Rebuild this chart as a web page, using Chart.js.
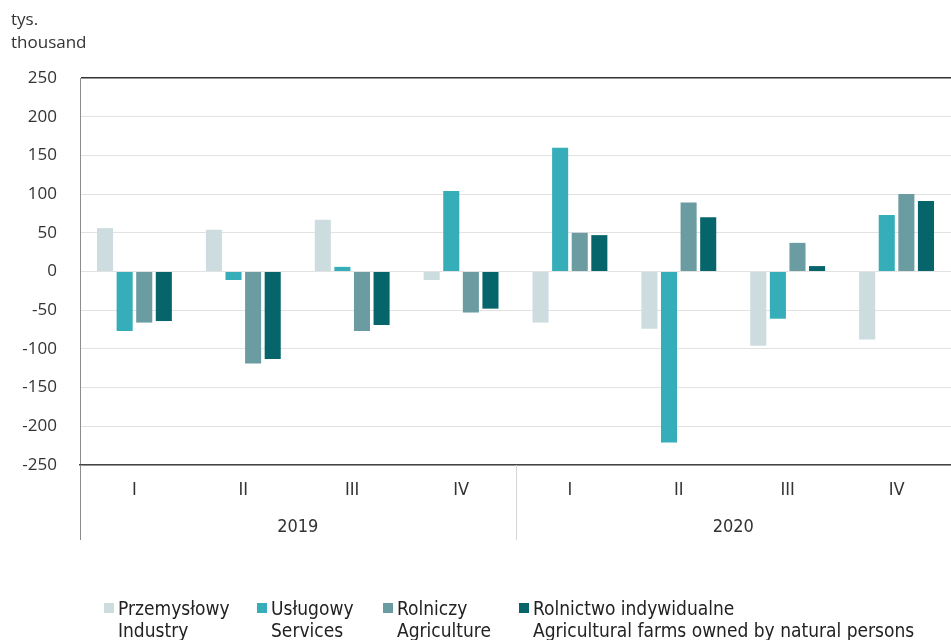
<!DOCTYPE html>
<html>
<head>
<meta charset="utf-8">
<script src="https://cdn.jsdelivr.net/npm/chart.js@4"></script>
<style>
  body { margin: 0; background: #fff; }
  #wrap { position: relative; width: 951px; height: 640px; }
  #legend { position: absolute; left: 0; top: 597px; width: 951px; height: 43px;
    font-family: "DejaVu Sans Condensed", "DejaVu Sans", sans-serif;
    font-size: 19px; color: #222; line-height: 22px; }
  .box { position: absolute; top: 6px; width: 10px; height: 10px; }
  .txt { position: absolute; top: 0; white-space: nowrap; }
</style>
</head>
<body>
<div id="wrap">
  <canvas id="chart" width="951" height="640"></canvas>
  <div id="legend"></div>
</div>
<script>
const quarters = ['I', 'II', 'III', 'IV', 'I', 'II', 'III', 'IV'];
const years = ['2019', '2020'];
const unitLabels = ['tys.', 'thousand'];

const industry    = [56, 54, 67, -11, -66, -74, -96, -88];
const services    = [-77, -11, 6, 104, 160, -221, -61, 73];
const agriculture = [-66, -119, -77, -53, 50, 89, 37, 100];
const individual  = [-64, -113, -69, -48, 47, 70, 7, 91];

const seriesNames = [
  ['Przemysłowy', 'Industry'],
  ['Usługowy', 'Services'],
  ['Rolniczy', 'Agriculture'],
  ['Rolnictwo indywidualne', 'Agricultural farms owned by natural persons']
];
const colors = ['#cddcdf', '#35aeba', '#6a9ca1', '#06656a'];
const legendBoxX = [104, 257, 383, 519];
const legendTextX = [118, 271, 397, 533];

const condensed = 'DejaVu Sans Condensed';

const extras = {
  id: 'extras',
  afterDraw(chart) {
    const { ctx, chartArea, scales } = chart;
    const x = scales.x, yr = scales.year;
    ctx.save();
    // left border continues through the category axis
    ctx.strokeStyle = '#8c8c8c';
    ctx.lineWidth = 1;
    ctx.beginPath();
    ctx.moveTo(chartArea.left + 0.5, chartArea.bottom);
    ctx.lineTo(chartArea.left + 0.5, yr.bottom);
    ctx.stroke();
    // separator between the two years
    const mid = Math.round((x.getPixelForValue(3) + x.getPixelForValue(4)) / 2) + 0.5;
    ctx.strokeStyle = '#d6d6d6';
    ctx.beginPath();
    ctx.moveTo(mid, chartArea.bottom);
    ctx.lineTo(mid, yr.bottom);
    ctx.stroke();
    // unit label
    ctx.fillStyle = '#333';
    ctx.font = '17px "Open Sans"';
    ctx.textBaseline = 'middle';
    ctx.fillText(unitLabels[0], 11, 20);
    ctx.fillText(unitLabels[1], 11, 43);
    ctx.restore();
  }
};

const ctx = document.getElementById('chart').getContext('2d');
new Chart(ctx, {
  type: 'bar',
  data: {
    labels: quarters,
    datasets: [industry, services, agriculture, individual].map((d, i) => ({
      label: seriesNames[i].join(' '),
      data: d,
      backgroundColor: colors[i],
      borderWidth: 0,
      categoryPercentage: 0.72,
      barPercentage: 0.82
    }))
  },
  options: {
    responsive: false,
    animation: false,
    layout: { padding: { top: 78, bottom: 100, left: 0, right: 0 } },
    plugins: { legend: { display: false }, tooltip: { enabled: false } },
    scales: {
      y: {
        min: -250, max: 250,
        afterFit(scale) { scale.width = 80; },
        ticks: { stepSize: 50, padding: 23, color: '#333', font: { family: 'Open Sans', size: 17 } },
        grid: {
          drawTicks: false,
          color: c => (c.tick && c.tick.value === 250) ? '#333' : '#e2e2e2',
          lineWidth: c => (c.tick && c.tick.value === 250) ? 1.5 : 1
        },
        border: { color: '#8c8c8c', width: 1 }
      },
      x: {
        afterFit(scale) { scale.height = 37; },
        grid: { display: false, drawTicks: false },
        border: { color: '#444', width: 1.5 },
        ticks: { padding: 15, color: '#333', font: { family: condensed, size: 18 } }
      },
      year: {
        type: 'category',
        position: 'bottom',
        labels: years,
        offset: true,
        weight: 1,
        afterFit(scale) { scale.height = 38; },
        grid: { display: false, drawTicks: false },
        border: { display: false },
        ticks: { padding: 15, color: '#333', font: { family: condensed, size: 18 } }
      }
    }
  },
  plugins: [extras]
});

const legend = document.getElementById('legend');
seriesNames.forEach((names, i) => {
  const box = document.createElement('div');
  box.className = 'box';
  box.style.left = legendBoxX[i] + 'px';
  box.style.background = colors[i];
  legend.appendChild(box);
  const txt = document.createElement('div');
  txt.className = 'txt';
  txt.style.left = legendTextX[i] + 'px';
  txt.innerHTML = names[0] + '<br>' + names[1];
  legend.appendChild(txt);
});
</script>
</body>
</html>
